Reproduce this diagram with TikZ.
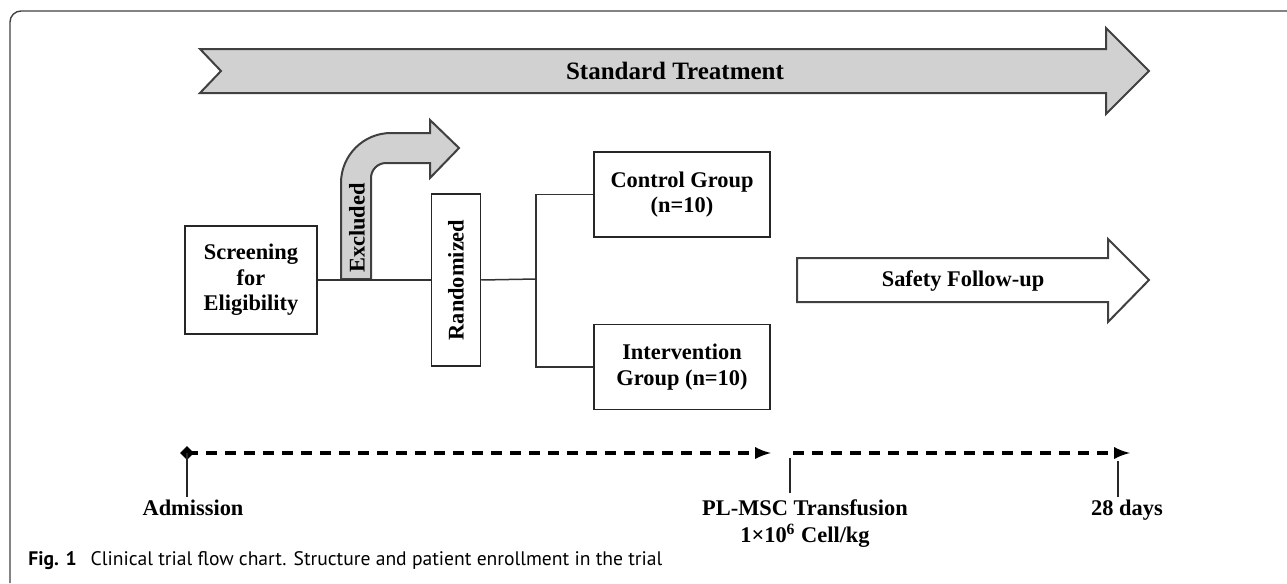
\documentclass[tikz,border=0pt]{standalone}
\usepackage{fontspec}
\setmainfont{Liberation Serif}
\newfontfamily\capfont{PT Sans}
\usetikzlibrary{arrows}
\usetikzlibrary{positioning, shapes.geometric}

\begin{document}
\begin{tikzpicture}[x=0.5pt, y=-0.5pt, >=latex, font=\bfseries\fontsize{11.2}{12.75}\selectfont]
		\tikzstyle{box}=[rectangle, draw=black!85, line width=0.75pt, align=center, inner sep=2pt]
		\tikzstyle{bigarrow}=[draw=black!75, line width=1pt, line join=miter]
		\tikzstyle{connect}=[draw=black!80, line width=0.75pt]
		\tikzstyle{timeline}=[-latex, line width=1.7pt, dash pattern=on 5.5pt off 4pt]
		\tikzstyle{tick}=[draw=black!85, line width=0.6pt]
		\tikzstyle{lbl}=[anchor=base, align=center, font=\bfseries\fontsize{11.2}{13.5}\selectfont]
		\useasboundingbox (0,0) rectangle (1287,584);
		% frame
		\draw[black!75, line width=0.7pt] (10,583) -- (10,22) arc[start angle=180, end angle=270, radius=11] -- (1287,11);
		% standard treatment
		\draw[bigarrow, fill=black!18] (200,49) -- (1106,49) -- (1106,28) -- (1149,71) -- (1106,114) -- (1106,93) -- (200,93) -- (221,71) -- cycle;
		\node[font=\bfseries\fontsize{12.5}{14}\selectfont] (std) at (675,71) {Standard Treatment};
		% boxes
		\node[box, minimum width=66pt, minimum height=54pt] (screen) at (251,280) {Screening\\for\\Eligibility};
		\node[box, minimum width=24.5pt, minimum height=86pt, right=56.5pt of screen] (rand) {};
		\node[rotate=90] (randtxt) at (rand) {Randomized};
		\node[box, minimum width=88pt, minimum height=42.5pt] (ctrl) at (682,194.5) {Control Group\\(n=10)};
		\node[box, minimum width=88pt, minimum height=42.5pt, below=43pt of ctrl] (interv) {Intervention\\Group (n=10)};
		\coordinate (split) at (536,279);
		% excluded
		\draw[bigarrow, fill=black!18] (341,279) -- (341,183) arc[start angle=180, end angle=270, radius=50] -- (430,133) -- (430,120) -- (459,148) -- (430,178) -- (430,163) -- (386,163) arc[start angle=270, end angle=180, radius=15] -- (371,279) -- cycle;
		\node[rotate=90] (excl) at (357,228) {Excluded};
		\path[connect]
		(screen.east) edge (rand.west)
		(rand.east) edge (split)
		;
		\draw[connect] (ctrl.west) -| (split) |- (interv.west);
		% safety follow-up
		\draw[bigarrow, fill=white] (797,258) -- (1108,258) -- (1108,239) -- (1149,280) -- (1108,322) -- (1108,302) -- (797,302) -- cycle;
		\node (safe) at (963,281) {Safety Follow-up};
		% timeline
		\coordinate (adm) at (187,453);
		\coordinate (admend) at (771,453);
		\coordinate (tfbeg) at (793,453);
		\coordinate (dayend) at (1130,453);
		\coordinate (admtick) at (187,497);
		\coordinate (tftop) at (790,458);
		\coordinate (tftick) at (790,493);
		\coordinate (daytop) at (1118,461);
		\coordinate (daytick) at (1118,497);
		\node[diamond, fill=black, inner sep=0pt, minimum size=7pt] (admdot) at (adm) {};
		\draw[timeline] (admdot.center) -- (admend);
		\draw[timeline] (tfbeg) -- (dayend);
		\draw[tick] (adm) -- (admtick);
		\draw[tick] (tftop) -- (tftick);
		\draw[tick] (daytop) -- (daytick);
		\node[lbl] (admlbl) at (193,515) {Admission};
		\node[lbl] (tflbl) at (805,542) {PL-MSC Transfusion\\1\texttimes10\textsuperscript{6} Cell/kg};
		\node[lbl] (daylbl) at (1127,515) {28 days};
		% caption
		\node[anchor=base west, inner sep=0pt, font=\capfont\mdseries\fontsize{9.8}{11}\selectfont] (cap) at (28,565) {{\bfseries Fig. 1}\hspace{7pt}Clinical trial flow chart. Structure and patient enrollment in the trial};
	\end{tikzpicture}
\end{document}
